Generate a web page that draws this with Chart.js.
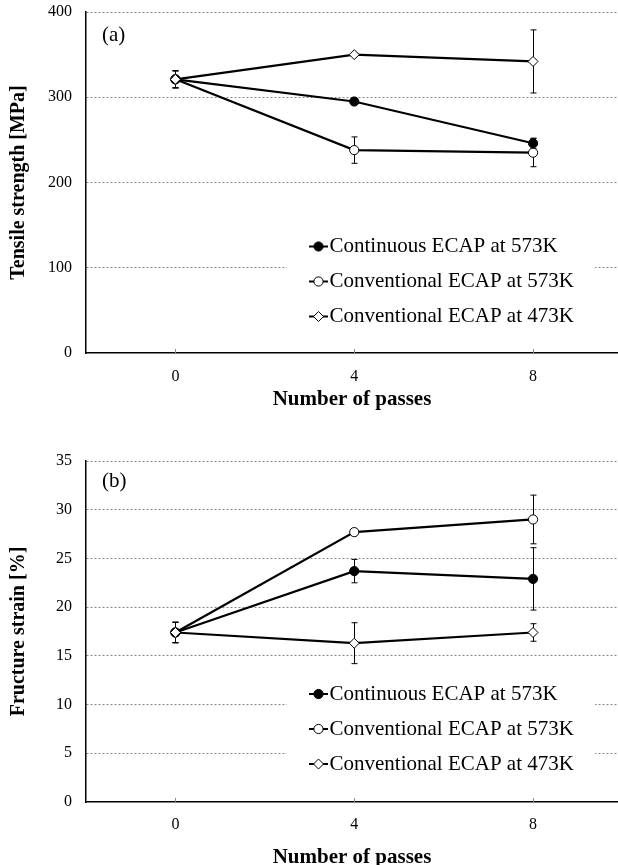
<!DOCTYPE html>
<html>
<head>
<meta charset="utf-8">
<script src="https://cdn.jsdelivr.net/npm/chart.js@4.4.1/dist/chart.umd.min.js"></script>
<style>
html, body { margin: 0; padding: 0; background: #fff; overflow: hidden; }
#wrap { position: relative; width: 618px; height: 865px; }
canvas { position: absolute; left: 0; }
#tensile { top: 0; }
#strain { top: 420px; }
</style>
</head>
<body>
<div id="wrap">
  <canvas id="tensile" width="618" height="420"></canvas>
  <canvas id="strain" width="618" height="450"></canvas>
</div>
<script>
const passes = [0, 4, 8];
const seriesNames = ['Continuous ECAP at 573K', 'Conventional ECAP at 573K', 'Conventional ECAP at 473K'];

// (a) tensile strength [MPa]
const tsContinuous573 = [321, 295, 246];
const tsConventional573 = [321, 238, 235];
const tsConventional473 = [321, 350, 342];
const tsErrContinuous573 = [10, 3, 6];
const tsErrConventional573 = [10, 15.5, 16.5];
const tsErrConventional473 = [10, 2, 37];

// (b) fracture strain [%]
const fsContinuous573 = [17.4, 23.7, 22.9];
const fsConventional573 = [17.4, 27.7, 29.0];
const fsConventional473 = [17.4, 16.3, 17.4];
const fsErrContinuous573 = [1.05, 1.2, 3.2];
const fsErrConventional573 = [1.05, 0.3, 2.5];
const fsErrConventional473 = [1.05, 2.1, 0.9];

const serif = 'Liberation Serif';

function drawMarker(ctx, ds, x, y) {
  ctx.save();
  ctx.lineWidth = 1;
  ctx.strokeStyle = ds.pointBorderColor;
  ctx.fillStyle = ds.pointBackgroundColor;
  ctx.beginPath();
  const r = ds.pointRadius;
  if (ds.pointStyle === 'rectRot') {
    ctx.moveTo(x, y - r); ctx.lineTo(x + r, y); ctx.lineTo(x, y + r); ctx.lineTo(x - r, y);
    ctx.closePath();
  } else {
    ctx.arc(x, y, r, 0, Math.PI * 2);
  }
  ctx.fill();
  ctx.stroke();
  ctx.restore();
}

// error bars, drawn under the markers
const errorBars = {
  id: 'errorBars',
  beforeDatasetsDraw(chart) {
    const ctx = chart.ctx, xs = chart.scales.x, ys = chart.scales.y;
    ctx.save();
    ctx.strokeStyle = '#000';
    ctx.lineWidth = 1;
    chart.data.datasets.forEach(ds => {
      ds.data.forEach((p, i) => {
        const e = ds.errors[i];
        const px = Math.round(xs.getPixelForValue(p.x)) + 0.5;
        const top = ys.getPixelForValue(p.y + e), bot = ys.getPixelForValue(p.y - e);
        ctx.beginPath();
        ctx.moveTo(px, top); ctx.lineTo(px, bot);
        ctx.moveTo(px - 3, top); ctx.lineTo(px + 3, top);
        ctx.moveTo(px - 3, bot); ctx.lineTo(px + 3, bot);
        ctx.stroke();
      });
    });
    ctx.restore();
  }
};

// small tick marks pointing into the plot + panel label + boxed legend
const extras = {
  id: 'extras',
  afterDraw(chart, args, opts) {
    const ctx = chart.ctx, area = chart.chartArea, xs = chart.scales.x;
    const l = area.left, t = area.top;
    ctx.save();
    ctx.strokeStyle = '#888';
    ctx.lineWidth = 1;
    xs.ticks.forEach(tk => {
      const px = Math.round(xs.getPixelForValue(tk.value)) + 0.5;
      ctx.beginPath();
      ctx.moveTo(px, area.bottom);
      ctx.lineTo(px, area.bottom - 4);
      ctx.stroke();
    });

    ctx.fillStyle = '#000';
    ctx.font = '21px "' + serif + '"';
    ctx.textBaseline = 'middle';
    ctx.fillText(opts.panel, l + 16, t + opts.panelY);

    ctx.fillStyle = '#fff';
    ctx.fillRect(l + 201, t + opts.legendY - 18, 308, 106);
    chart.data.datasets.forEach((ds, i) => {
      const y = t + opts.legendY + i * 35;
      ctx.strokeStyle = '#000';
      ctx.lineWidth = 2;
      ctx.beginPath();
      ctx.moveTo(l + 223, y);
      ctx.lineTo(l + 242, y);
      ctx.stroke();
      drawMarker(ctx, ds, l + 232.5, y);
      ctx.fillStyle = '#000';
      ctx.fillText(ds.label, l + 243.5, y);
    });
    ctx.restore();
  }
};

function series(label, values, errors, style, order) {
  return {
    label: label,
    data: passes.map((p, i) => ({ x: p, y: values[i] })),
    errors: errors,
    borderColor: '#000',
    borderWidth: 2.2,
    tension: 0,
    fill: false,
    pointStyle: style.shape,
    pointRadius: style.r,
    pointHoverRadius: style.r,
    pointBorderWidth: 1,
    pointBorderColor: '#000',
    pointBackgroundColor: style.fill,
    order: order
  };
}

function makeChart(id, sets, yMax, yStep, yTitle, lay) {
  return new Chart(document.getElementById(id).getContext('2d'), {
    type: 'line',
    data: {
      datasets: [
        series(seriesNames[0], sets[0], sets[3], { shape: 'circle', r: 4.6, fill: '#000' }, 1),
        series(seriesNames[1], sets[1], sets[4], { shape: 'circle', r: 4.6, fill: '#fff' }, 2),
        series(seriesNames[2], sets[2], sets[5], { shape: 'rectRot', r: 5, fill: '#fff' }, 0)
      ]
    },
    options: {
      responsive: false,
      animation: false,
      layout: { autoPadding: false, padding: { top: lay.top, bottom: lay.bottom, left: 0, right: 0 } },
      plugins: {
        legend: { display: false },
        tooltip: { enabled: false },
        extras: { panel: lay.panel, panelY: lay.panelY, legendY: lay.legendY }
      },
      scales: {
        x: {
          type: 'linear',
          min: -2,
          max: 9.9,
          afterBuildTicks: s => { s.ticks = passes.map(v => ({ value: v })); },
          afterFit: s => { s.height = lay.xHeight; s.paddingLeft = 0; s.paddingRight = 0; },
          grid: { display: false, drawTicks: false },
          border: { display: true, color: '#000', width: 1.5 },
          ticks: { color: '#000', padding: lay.tickPad, font: { family: serif, size: 16 } },
          title: {
            display: true,
            text: 'Number of passes',
            color: '#000',
            padding: { top: 0, bottom: 0 },
            font: { family: serif, size: 21, weight: 'bold' }
          }
        },
        y: {
          min: 0,
          max: yMax,
          afterFit: s => { s.width = 86; s.paddingTop = 0; s.paddingBottom = 0; },
          ticks: { stepSize: yStep, color: '#000', padding: 14, font: { family: serif, size: 16 } },
          grid: {
            drawTicks: false,
            lineWidth: 1,
            color: c => (c.tick && c.tick.value === 0) ? 'rgba(0,0,0,0)' : '#888'
          },
          border: { display: true, color: '#000', width: 1.5, dash: [2, 2] },
          title: {
            display: true,
            text: yTitle,
            color: '#000',
            padding: { top: 7, bottom: 0 },
            font: { family: serif, size: 20, weight: 'bold' }
          }
        }
      }
    },
    plugins: [errorBars, extras]
  });
}

makeChart('tensile',
  [tsContinuous573, tsConventional573, tsConventional473, tsErrContinuous573, tsErrConventional573, tsErrConventional473],
  400, 100, 'Tensile strength [MPa]',
  { top: 12, bottom: 8, xHeight: 59, tickPad: 14, panel: '(a)', panelY: 23, legendY: 234.5 });

makeChart('strain',
  [fsContinuous573, fsConventional573, fsConventional473, fsErrContinuous573, fsErrConventional573, fsErrConventional473],
  35, 5, 'Fructure strain [%]',
  { top: 41, bottom: 0, xHeight: 68, tickPad: 13, panel: '(b)', panelY: 20, legendY: 233 });
</script>
</body>
</html>
